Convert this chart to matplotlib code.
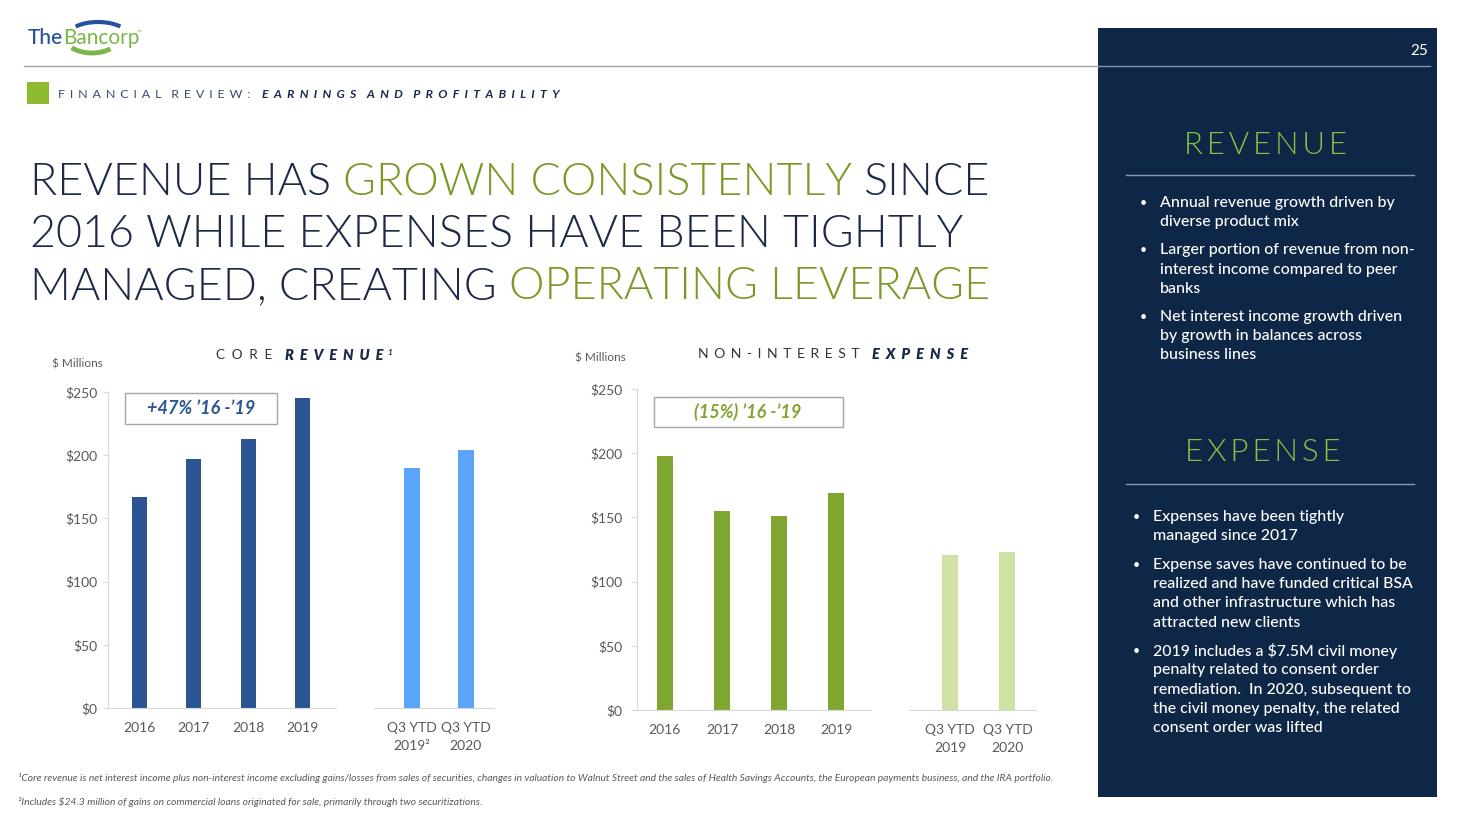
import matplotlib
matplotlib.use('Agg')
import matplotlib.pyplot as plt
from matplotlib.patches import Rectangle, Arc
from matplotlib import font_manager as fm

# ---------------- data ----------------
annual_years = ['2016', '2017', '2018', '2019']
ytd_labels_rev = ['Q3 YTD\n2019²', 'Q3 YTD\n2020']
ytd_labels_exp = ['Q3 YTD\n2019', 'Q3 YTD\n2020']
core_revenue_annual = [167, 197, 213, 245]
core_revenue_ytd = [190, 204]
nonint_expense_annual = [198, 155, 151, 169]
nonint_expense_ytd = [121, 123]
y_ticks = [0, 50, 100, 150, 200, 250]
y_tick_labels = ['$0', '$50', '$100', '$150', '$200', '$250']
rev_growth_label = '+47% ’16 -’19'
exp_change_label = '(15%) ’16 -’19'

revenue_bullets = [
    ['Annual revenue growth driven by', 'diverse product mix'],
    ['Larger portion of revenue from non-', 'interest income compared to peer', 'banks'],
    ['Net interest income growth driven', 'by growth in balances across', 'business lines'],
]
expense_bullets = [
    ['Expenses have been tightly', 'managed since 2017'],
    ['Expense saves have continued to be', 'realized and have funded critical BSA',
     'and other infrastructure which has', 'attracted new clients'],
    ['2019 includes a $7.5M civil money', 'penalty related to consent order',
     'remediation.  In 2020, subsequent to', 'the civil money penalty, the related',
     'consent order was lifted'],
]
footnote1 = ('¹Core revenue is net interest income plus non-interest income excluding gains/losses '
             'from sales of securities, changes in valuation to Walnut Street and the sales of Health '
             'Savings Accounts, the European payments business, and the IRA portfolio.')
footnote2 = '²Includes $24.3 million of gains on commercial loans originated for sale, primarily through two securitizations.'

# ---------------- style ----------------
names = {f.name for f in fm.fontManager.ttflist}
BODY = 'Lato' if 'Lato' in names else 'DejaVu Sans'
plt.rcParams['font.family'] = [BODY, 'DejaVu Sans']

NAVY = '#1c2a48'
GREEN = '#7a9a26'
GRAY = '#595959'
BLUE_D = '#2a5592'
BLUE_L = '#5aa5fa'
GREEN_D = '#80a632'
GREEN_L = '#cfe1a3'
PANEL = '#0f2746'
PANEL_GREEN = '#8bc043'

W, H = 1465, 824
fig = plt.figure(figsize=(W / 100, H / 100), dpi=100)
fig.patch.set_facecolor('white')
deco = fig.add_axes([0, 0, 1, 1], zorder=0)
deco.set_xlim(0, W)
deco.set_ylim(H, 0)
deco.axis('off')

fig.canvas.draw()
R = fig.canvas.get_renderer()


def twidth(s, **kw):
    t = deco.text(0, 0, s, **kw)
    w = t.get_window_extent(renderer=R).width
    t.remove()
    return w


SEPS = [' ', '\u2009', '\u2005', '\u2004', ' \u200a', '\u2005\u200a', '\u2004\u200a',
        '\u2002', '\u2002\u200a', '  ']


def tracked(s, sep):
    return (sep * 2).join(sep.join(list(w)) for w in s.split(' '))


def fit_text(x, y, s, target, ha='left', **kw):
    """Place letter-spaced text so that its width is close to target."""
    size = kw.pop('fontsize')
    best = None
    for sep in SEPS:
        txt = tracked(s, sep)
        w = twidth(txt, fontsize=size, **kw)
        if best is None or abs(w - target) < abs(best[1] - target):
            best = (txt, w)
    txt, w = best
    size = size * target / w
    return deco.text(x, y, txt, ha=ha, fontsize=size, **kw)


def seq_text(x, y, parts, **common):
    for s, kw in parts:
        allkw = dict(common)
        allkw.update(kw)
        t = deco.text(x, y, s, ha='left', **allkw)
        w = t.get_window_extent(renderer=R).width
        sp = twidth('H H', **allkw) - twidth('HH', **allkw)
        x += w + sp
    return x


def frac(l, t, r, b):
    return [l / W, 1 - b / H, (r - l) / W, (b - t) / H]


# ---------------- header ----------------
deco.text(28, 44, 'The', color='#24529e', fontsize=15, fontweight='medium', va='baseline')
deco.text(63, 44, 'Bancorp', color='#7ab648', fontsize=15, va='baseline')
deco.text(137, 33, '™', color='#7ab648', fontsize=4.5, va='baseline')
deco.add_patch(Arc((98, 37), 62, 30, theta1=205, theta2=335, color='#24529e', lw=3))
deco.add_patch(Arc((92, 36), 56, 34, theta1=35, theta2=150, color='#7ab648', lw=3.5))

deco.plot([24, 1098], [66, 66], color='#a6a6a6', lw=1)
deco.add_patch(Rectangle((27, 82), 22, 22, color='#8dba2e', lw=0))

fit_text(58, 94, 'FINANCIAL REVIEW:', 192, color='#3a4a66', fontsize=9, va='center')
fit_text(262, 94, 'EARNINGS AND PROFITABILITY', 300, color=NAVY, fontsize=9,
         fontweight='bold', style='italic', va='center')

# big title: size fitted so first line spans the reference width
title_w = 36 * 960 / twidth('REVENUE HAS GROWN CONSISTENTLY SINCE', fontsize=36, fontweight=300)
title_kw = dict(fontsize=title_w, fontweight=300, va='baseline')
seq_text(30, 195, [('REVENUE HAS', dict(color=NAVY)), ('GROWN CONSISTENTLY', dict(color=GREEN)),
                   ('SINCE', dict(color=NAVY))], **title_kw)
seq_text(30, 247, [('2016 WHILE EXPENSES HAVE BEEN TIGHTLY', dict(color=NAVY))], **title_kw)
seq_text(30, 299, [('MANAGED, CREATING', dict(color=NAVY)), ('OPERATING LEVERAGE', dict(color=GREEN))], **title_kw)

# ---------------- right panel ----------------
deco.add_patch(Rectangle((1098, 28), 339, 769, color=PANEL, lw=0, zorder=0))
deco.plot([1098, 1430], [66, 66], color='#8494ac', lw=1)
deco.text(1428, 51, '25', color='white', fontsize=11, ha='right', va='center')

fit_text(1266, 145, 'REVENUE', 162, ha='center', color=PANEL_GREEN, fontsize=22,
         fontweight=300, va='center')
deco.plot([1126, 1414], [175, 175], color='#8a9ab0', lw=1)
fit_text(1263, 452, 'EXPENSE', 156, ha='center', color=PANEL_GREEN, fontsize=22,
         fontweight=300, va='center')
deco.plot([1126, 1414], [484, 484], color='#8a9ab0', lw=1)


def bullets(items, xb, xt, y0, step, para_gap):
    y = y0
    for lines in items:
        deco.text(xb, y, '•', color='white', fontsize=9, va='center')
        for ln in lines:
            deco.text(xt, y, ln, color='white', fontsize=11.4, fontweight='medium', va='center')
            y += step
        y += para_gap


bullets(revenue_bullets, 1140, 1160, 203, 19.2, 9)
bullets(expense_bullets, 1133, 1153, 517, 19.2, 9.5)

# ---------------- charts ----------------
def setup_chart(rect, xlim, show_left, ypad, ticklen, xpad):
    ax = fig.add_axes(rect, zorder=2)
    ax.set_facecolor('none')
    ax.set_ylim(0, 250)
    ax.set_xlim(*xlim)
    for s in ['top', 'right']:
        ax.spines[s].set_visible(False)
    ax.spines['bottom'].set_color('#d9d9d9')
    if show_left:
        ax.spines['left'].set_color('#d9d9d9')
        ax.set_yticks(y_ticks)
        ax.set_yticklabels(y_tick_labels)
        ax.tick_params(axis='y', length=ticklen, color='#d9d9d9', labelcolor=GRAY,
                       labelsize=10, pad=ypad)
    else:
        ax.spines['left'].set_visible(False)
        ax.set_yticks([])
    ax.tick_params(axis='x', length=0, labelcolor=GRAY, labelsize=10, pad=xpad)
    return ax


ax1 = setup_chart(frac(108, 392, 336, 708), (-0.574, 3.61), True, 4, 3.5, 10)
ax1.bar(range(len(annual_years)), core_revenue_annual, width=0.28, color=BLUE_D)
ax1.set_xticks(range(len(annual_years)), annual_years)

ax2 = setup_chart(frac(374, 392, 494, 708), (-0.70, 1.52), False, 4, 3.5, 10)
ax2.bar(range(len(ytd_labels_rev)), core_revenue_ytd, width=0.29, color=BLUE_L)
ax2.set_xticks(range(len(ytd_labels_rev)), ytd_labels_rev)

ax3 = setup_chart(frac(637, 389, 871, 710), (-0.49, 3.61), True, 6, 4.3, 10)
ax3.bar(range(len(annual_years)), nonint_expense_annual, width=0.28, color=GREEN_D)
ax3.set_xticks(range(len(annual_years)), annual_years)

ax4 = setup_chart(frac(909, 389, 1036, 710), (-0.72, 1.50), False, 6, 4.3, 10)
ax4.bar(range(len(ytd_labels_exp)), nonint_expense_ytd, width=0.28, color=GREEN_L)
ax4.set_xticks(range(len(ytd_labels_exp)), ytd_labels_exp)

for ax in (ax2, ax4):
    for lab in ax.get_xticklabels():
        lab.set_linespacing(1.6)

# chart titles
deco.text(52, 364, '$ Millions', color=GRAY, fontsize=8.5, va='center')
deco.text(575, 358, '$ Millions', color=GRAY, fontsize=8.5, va='center')
fit_text(216, 355, 'CORE', 56, color='#333333', fontsize=10, va='center')
fit_text(285, 355, 'REVENUE', 99, color=NAVY, fontsize=10.5, fontweight='heavy', style='italic',
         va='center')
deco.text(387, 352, '1', color=NAVY, fontsize=6, fontweight='bold', style='italic', va='center')
fit_text(698, 354, 'NON-INTEREST', 162, color='#333333', fontsize=10, va='center')
fit_text(872, 354, 'EXPENSE', 96, color=NAVY, fontsize=10.5, fontweight='heavy', style='italic',
         va='center')

# annotation boxes
deco.add_patch(Rectangle((125, 393), 152, 31, fc='white', ec='#a6a6a6', lw=1, zorder=3))
deco.text(201, 408.5, rev_growth_label, color=BLUE_D, fontsize=13, fontweight='bold',
          style='italic', ha='center', va='center', zorder=4)
deco.add_patch(Rectangle((654, 397), 189, 30, fc='white', ec='#a6a6a6', lw=1, zorder=3))
deco.text(748, 412, exp_change_label, color='#7fa52e', fontsize=13, fontweight='bold',
          style='italic', ha='center', va='center', zorder=4)

# footnotes
deco.text(18, 778, footnote1, color=GRAY, fontsize=7.4, style='italic', va='center')
deco.text(18, 802, footnote2, color=GRAY, fontsize=7.4, style='italic', va='center')

fig.savefig('out.png', dpi=100)
